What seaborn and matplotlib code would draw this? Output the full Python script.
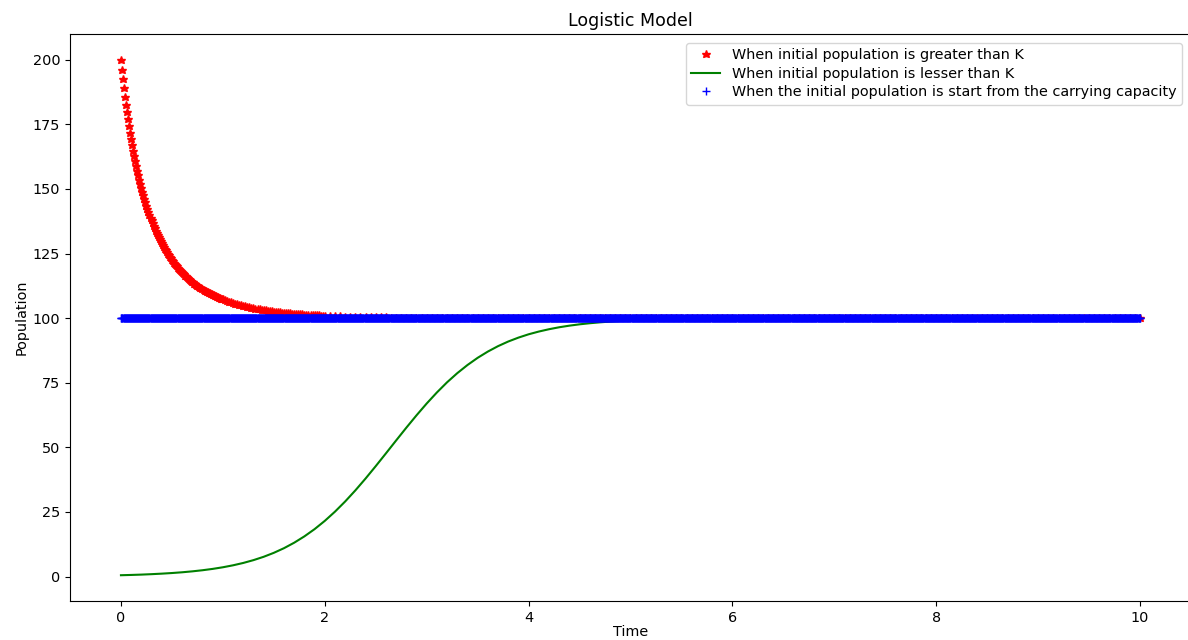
import numpy as np
import matplotlib
matplotlib.use("Agg")
import matplotlib.pyplot as plt
import seaborn as sns

# Carrying capacity K = 100, growth rate 2, time 0..10

# Population starting above K (P0 = 200): dense samples over the steep early decay
red_time_early = np.linspace(0.0, 1.0, 101)
red_early = [
    200.0, 196.1, 192.5, 189.0, 185.7, 182.6, 179.7, 176.9, 174.2, 171.7,
    169.3, 167.0, 164.8, 162.7, 160.7, 158.8, 157.0, 155.3, 153.6, 152.0,
    150.4, 148.9, 147.5, 146.1, 144.8, 143.5, 142.3, 141.1, 140.0, 138.9,
    137.8, 136.8, 135.8, 134.9, 133.9, 133.0, 132.2, 131.3, 130.5, 129.7,
    129.0, 128.2, 127.5, 126.8, 126.2, 125.5, 124.9, 124.3, 123.7, 123.1,
    122.5, 122.0, 121.5, 121.0, 120.5, 120.0, 119.5, 119.0, 118.6, 118.2,
    117.7, 117.3, 116.9, 116.5, 116.2, 115.8, 115.4, 115.1, 114.7, 114.4,
    114.1, 113.8, 113.4, 113.1, 112.8, 112.6, 112.3, 112.0, 111.7, 111.5,
    111.2, 111.0, 110.7, 110.5, 110.3, 110.1, 109.8, 109.6, 109.4, 109.2,
    109.0, 108.8, 108.6, 108.4, 108.3, 108.1, 107.9, 107.7, 107.6, 107.4,
    107.3,
]
red_time_mid = np.linspace(1.02, 2.00, 50)
red_mid = [
    106.95, 106.66, 106.38, 106.12, 105.87, 105.62, 105.39, 105.17, 104.95, 104.75,
    104.56, 104.37, 104.19, 104.02, 103.86, 103.70, 103.55, 103.41, 103.27, 103.14,
    103.01, 102.89, 102.77, 102.66, 102.55, 102.45, 102.35, 102.26, 102.17, 102.08,
    102.00, 101.92, 101.84, 101.77, 101.70, 101.63, 101.56, 101.50, 101.44, 101.39,
    101.33, 101.28, 101.23, 101.18, 101.13, 101.09, 101.04, 101.00, 100.96, 100.92,
]
red_time_late = np.linspace(2.05, 3.40, 28)
red_late = [
    100.84, 100.76, 100.68, 100.62, 100.56, 100.51, 100.46, 100.41, 100.37, 100.34,
    100.31, 100.28, 100.25, 100.23, 100.21, 100.19, 100.17, 100.15, 100.14, 100.12,
    100.11, 100.10, 100.09, 100.08, 100.08, 100.07, 100.06, 100.06,
]
red_time_tail = np.linspace(3.45, 10.0, 132)
red_tail = [100.0] * 132

# Population starting below K (P0 = 0.5)
green_time = np.linspace(0.0, 10.0, 101)
green_values = [
    0.50, 0.61, 0.74, 0.91, 1.11, 1.35, 1.64, 2.00, 2.43, 2.95,
    3.58, 4.34, 5.25, 6.34, 7.63, 9.17, 10.97, 13.09, 15.54, 18.34,
    21.53, 25.10, 29.04, 33.33, 37.91, 42.72, 47.66, 52.65, 57.59, 62.38,
    66.96, 71.23, 75.17, 78.70, 81.85, 84.64, 87.06, 89.16, 90.95, 92.46,
    93.75, 94.81, 95.71, 96.47, 97.09, 97.61, 98.03, 98.38, 98.67, 98.91,
    99.10, 99.27, 99.40, 99.51, 99.60, 99.67, 99.73, 99.78, 99.82, 99.85,
    99.88, 99.90, 99.92, 99.93, 99.95, 99.95, 99.96, 99.97, 99.98, 99.98,
    99.98, 100.0, 100.0, 100.0, 100.0, 100.0, 100.0, 100.0, 100.0, 100.0,
    100.0, 100.0, 100.0, 100.0, 100.0, 100.0, 100.0, 100.0, 100.0, 100.0,
    100.0, 100.0, 100.0, 100.0, 100.0, 100.0, 100.0, 100.0, 100.0, 100.0,
    100.0,
]

# Population starting exactly at K stays constant
blue_time = np.linspace(0.0, 10.0, 2001)
blue_values = [100.0] * 2001

labels = [
    "When initial population is greater than K",
    "When initial population is lesser than K",
    "When the initial population is start from the carrying capacity",
]

red_time = np.concatenate([red_time_early, red_time_mid, red_time_late, red_time_tail])
red_values = red_early + red_mid + red_late + red_tail

plt.rcParams["font.size"] = 10.4

fig = plt.figure(figsize=(11.88, 6.40), dpi=100)
ax = fig.add_axes([70 / 1188, 39 / 640, 1121 / 1188, 567 / 640])

sns.lineplot(x=red_time, y=red_values, ax=ax, color="red", marker="*",
             linestyle="", markersize=6.2, markeredgecolor="red",
             markeredgewidth=1.0, errorbar=None, label=labels[0])
sns.lineplot(x=green_time, y=green_values, ax=ax, color="green",
             linewidth=1.5, errorbar=None, label=labels[1])
sns.lineplot(x=blue_time, y=blue_values, ax=ax, color="blue", marker="+",
             linestyle="", markersize=6.2, markeredgecolor="blue",
             markeredgewidth=1.0, errorbar=None, label=labels[2])

ax.spines["right"].set_visible(False)
ax.set_title("Logistic Model", fontsize=12.5)
ax.set_xlabel("Time", fontsize=10.4, labelpad=0.5)
ax.set_ylabel("Population", fontsize=10.4, labelpad=3)
ax.legend(loc="upper right", fontsize=10.4, labelspacing=0.3,
          borderaxespad=0.6)

fig.savefig("out.png", dpi=100)
